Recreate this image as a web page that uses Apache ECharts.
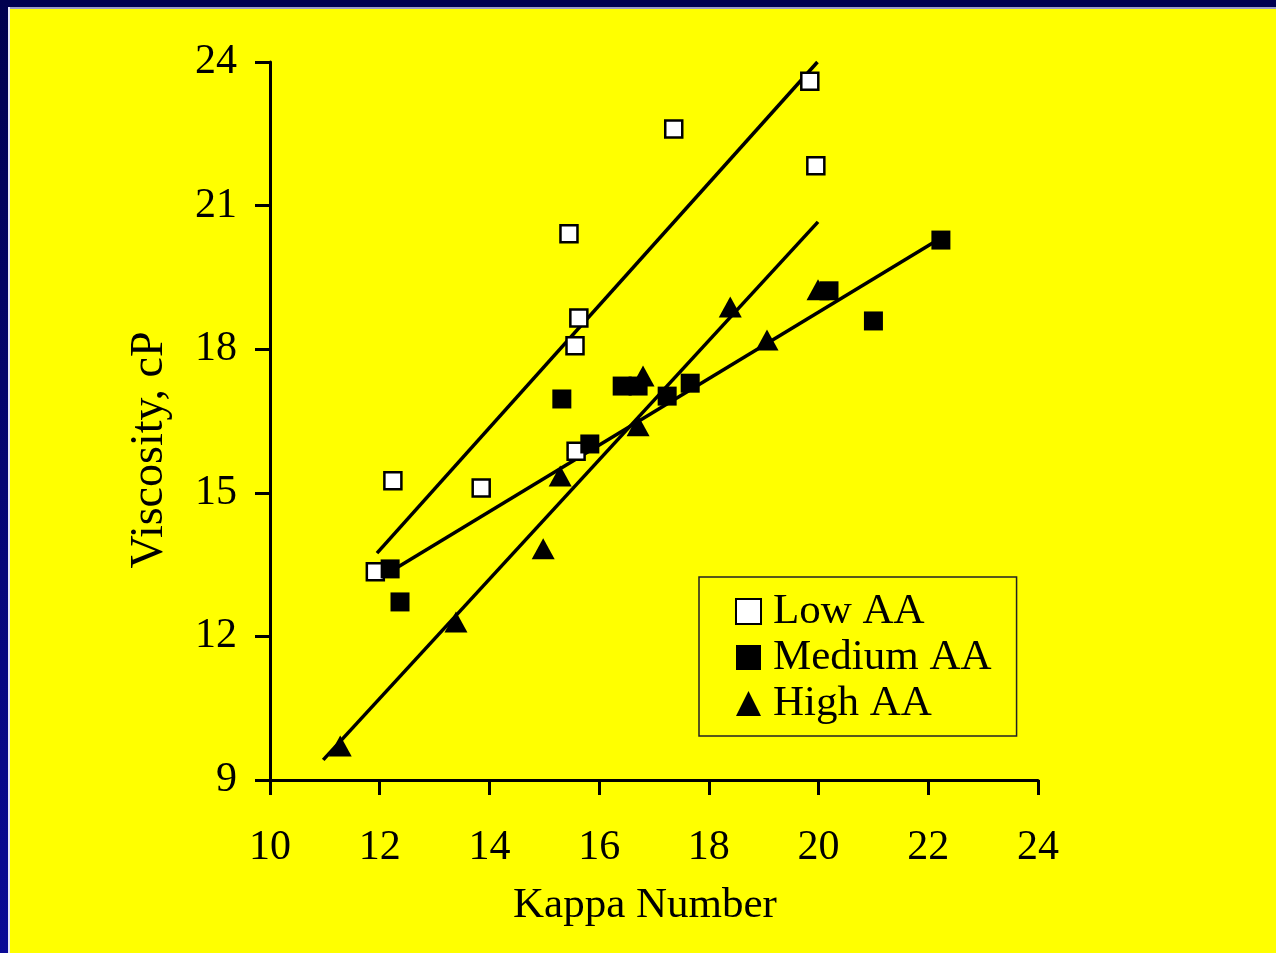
<!DOCTYPE html>
<html>
<head>
<meta charset="utf-8">
<script src="https://cdn.jsdelivr.net/npm/echarts@6/dist/echarts.min.js"></script>
<style>
  html, body { margin: 0; padding: 0; background: #ffff00; }
  #chart { width: 1276px; height: 953px; }
</style>
</head>
<body>
<div id="chart"></div>
<script>
// Tick values
const xTicks = [10, 12, 14, 16, 18, 20, 22, 24];
const yTicks = [9, 12, 15, 18, 21, 24];

// Low AA (open squares)
const lowX = [11.92, 12.24, 13.85, 15.45, 15.63, 15.56, 15.58, 17.36, 19.84, 19.95];
const lowY = [13.35, 15.25, 15.10, 20.41, 18.65, 18.07, 15.87, 22.60, 23.60, 21.83];

// Medium AA (filled squares)
const medX = [12.19, 12.37, 15.32, 15.83, 16.42, 16.71, 17.24, 17.66, 20.19, 21.00, 22.23];
const medY = [13.41, 12.72, 16.96, 16.02, 17.23, 17.23, 17.02, 17.29, 19.22, 18.59, 20.28];

// High AA (filled triangles)
const highX = [11.28, 13.39, 14.98, 15.29, 16.71, 16.80, 18.39, 19.06, 19.99];
const highY = [9.71, 12.30, 13.83, 15.35, 16.40, 17.44, 18.88, 18.19, 19.24];

// Trend lines (endpoints)
const lowTrendX = [11.95, 19.98];
const lowTrendY = [13.74, 24.0];
const medTrendX = [12.19, 22.2];
const medTrendY = [13.35, 20.3];
const highTrendX = [10.97, 19.99];
const highTrendY = [9.42, 20.66];

const pairs = (xs, ys) => xs.map((x, i) => [x, ys[i]]);

const FONT = '"Liberation Serif", "Times New Roman", serif';

const chart = echarts.init(document.getElementById('chart'), null, { renderer: 'canvas' });

const trendStyle = { color: '#000', width: 3.5 };

chart.setOption({
  animation: false,
  backgroundColor: '#ffff00',
  textStyle: { fontFamily: FONT },
  graphic: [
    { type: 'rect', z: -10, shape: { x: 0, y: 0, width: 1276, height: 7 }, style: { fill: '#00004f' } },
    { type: 'rect', z: -10, shape: { x: 0, y: 7, width: 1276, height: 2 }, style: { fill: '#9c9cc8' } },
    { type: 'rect', z: -9, shape: { x: 0, y: 0, width: 8, height: 953 },
      style: { fill: new echarts.graphic.LinearGradient(0, 0, 0, 1, [
        { offset: 0, color: '#00004f' }, { offset: 1, color: '#0a0a96' }]) } },
    { type: 'rect', z: -9, shape: { x: 8, y: 7, width: 2, height: 946 }, style: { fill: '#e8e8f4' } }
  ],
  grid: { left: 270, right: 238, top: 62, bottom: 173, containLabel: false },
  xAxis: {
    type: 'value', min: 10, max: 24, interval: 2,
    name: 'Kappa Number', nameLocation: 'middle', nameGap: 104,
    nameTextStyle: { fontFamily: FONT, fontSize: 43, color: '#000', padding: [0, 18, 0, 0] },
    axisLine: { show: true, onZero: false, lineStyle: { color: '#000', width: 3 } },
    axisTick: { show: true, length: 15, inside: false, lineStyle: { color: '#000', width: 3 } },
    axisLabel: { fontFamily: FONT, fontSize: 42, color: '#000', margin: 47,
      formatter: v => xTicks.includes(v) ? String(v) : '' },
    splitLine: { show: false }
  },
  yAxis: {
    type: 'value', min: 9, max: 24, interval: 3,
    name: 'Viscosity, cP', nameLocation: 'middle', nameGap: 97,
    nameTextStyle: { fontFamily: FONT, fontSize: 46, color: '#000', padding: [0, 58, 0, 0] },
    axisLine: { show: true, onZero: false, lineStyle: { color: '#000', width: 3 } },
    axisTick: { show: true, length: 15, inside: false, lineStyle: { color: '#000', width: 3 } },
    axisLabel: { fontFamily: FONT, fontSize: 42, color: '#000', margin: 33,
      formatter: v => yTicks.includes(v) ? String(v) : '' },
    splitLine: { show: false }
  },
  legend: {
    data: ['Low AA', 'Medium AA', 'High AA'],
    orient: 'vertical',
    left: 699, top: 577,
    padding: [13, 25, 11, 36],
    itemGap: 3,
    itemWidth: 25, itemHeight: 25,
    backgroundColor: '#ffff00',
    borderColor: '#222', borderWidth: 1.5,
    selectedMode: false,
    textStyle: { fontFamily: FONT, fontSize: 43, color: '#000', lineHeight: 43, padding: [0, 0, 0, 7] }
  },
  series: [
    { name: 'Low AA trend', type: 'line', data: pairs(lowTrendX, lowTrendY), showSymbol: false,
      lineStyle: trendStyle, silent: true, z: 2 },
    { name: 'Medium AA trend', type: 'line', data: pairs(medTrendX, medTrendY), showSymbol: false,
      lineStyle: trendStyle, silent: true, z: 2 },
    { name: 'High AA trend', type: 'line', data: pairs(highTrendX, highTrendY), showSymbol: false,
      lineStyle: trendStyle, silent: true, z: 2 },
    { name: 'Low AA', type: 'scatter', data: pairs(lowX, lowY), symbol: 'rect', symbolSize: 17,
      itemStyle: { color: '#ffffff', borderColor: '#000', borderWidth: 2.5, opacity: 1 }, z: 3 },
    { name: 'Medium AA', type: 'scatter', data: pairs(medX, medY), symbol: 'rect', symbolSize: 19,
      itemStyle: { color: '#000', opacity: 1 }, z: 3 },
    { name: 'High AA', type: 'scatter', data: pairs(highX, highY), symbol: 'triangle', symbolSize: [23, 21],
      itemStyle: { color: '#000', opacity: 1 }, z: 3 }
  ]
});
</script>
</body>
</html>
